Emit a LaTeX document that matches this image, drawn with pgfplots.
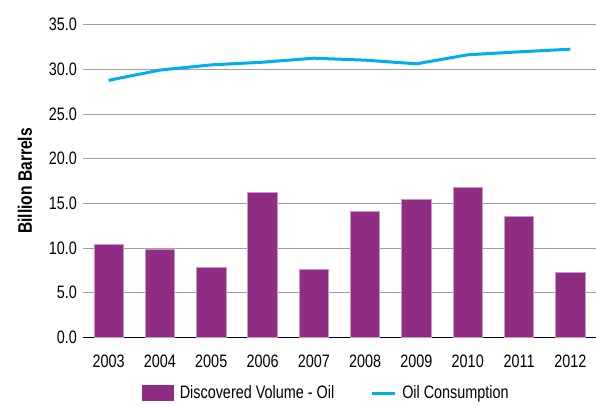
\documentclass[border=0pt]{standalone}
\usepackage{pgfplots}
\pgfplotsset{compat=1.18}
\usepackage{fontspec}
\setmainfont{Liberation Sans}[FakeStretch=0.8]
\definecolor{barpurple}{RGB}{142,45,130}
\definecolor{baredge}{RGB}{205,150,200}
\definecolor{linecyan}{RGB}{0,174,239}
\begin{document}
\fontsize{18pt}{21pt}\selectfont
\begin{tikzpicture}
\useasboundingbox (-83pt,-69.7pt) rectangle (515pt,337.3pt);
\begin{axis}[
  at={(0,0)}, anchor=south west,
  scale only axis,
  width=513pt, height=312.6pt,
  xmin=-0.5, xmax=9.5,
  ymin=0, ymax=35,
  xtick={0,...,9},
  xticklabels={2003,2004,2005,2006,2007,2008,2009,2010,2011,2012},
  ytick={0,5,...,35},
  yticklabel={\pgfmathprintnumber[fixed,fixed zerofill,precision=1,assume math mode=true]{\tick}},
  tick label style={font=\fontsize{18pt}{21pt}\selectfont},
  major tick length=0pt,
  axis x line*=bottom,
  axis y line*=left,
  y axis line style={draw=none},
  x axis line style={black, line width=0.9pt, -},
  ymajorgrids,
  major grid style={gray!75, line width=0.9pt},
  ylabel={\textbf{Billion Barrels}},
  ylabel style={font=\fontsize{19.5pt}{22pt}\selectfont, at={(axis description cs:-0.113,0.5)}, anchor=center},
  xticklabel style={yshift=-11pt},
  legend style={at={(axis description cs:0.115,-0.179)}, anchor=west, draw=none, legend columns=2,
    inner sep=0pt, outer sep=0pt,
    font=\fontsize{18pt}{21pt}\selectfont,
    /tikz/every odd column/.append style={column sep=4pt},
    /tikz/every even column/.append style={column sep=34pt}},
  legend cell align=left,
]
\addplot[ybar, bar width=29.4pt, fill=barpurple, draw=baredge, line width=0.8pt,
  legend image code/.code={\fill[barpurple] (0pt,-7.5pt) rectangle (31pt,7.5pt);}]
  coordinates {(0,10.43) (1,9.88) (2,7.83) (3,16.26) (4,7.57) (5,14.07) (6,15.44) (7,16.82) (8,13.51) (9,7.28)};
\addlegendentry{Discovered Volume - Oil}
\addplot[linecyan, line width=3pt, mark=none,
  legend image code/.code={\draw[linecyan, line width=3pt] (0pt,0pt) -- (23pt,0pt);}]
  coordinates {(0,28.77) (1,29.92) (2,30.5) (3,30.8) (4,31.25) (5,31.03) (6,30.62) (7,31.63) (8,31.96) (9,32.26)};
\addlegendentry{Oil Consumption}
\end{axis}
\end{tikzpicture}
\end{document}
